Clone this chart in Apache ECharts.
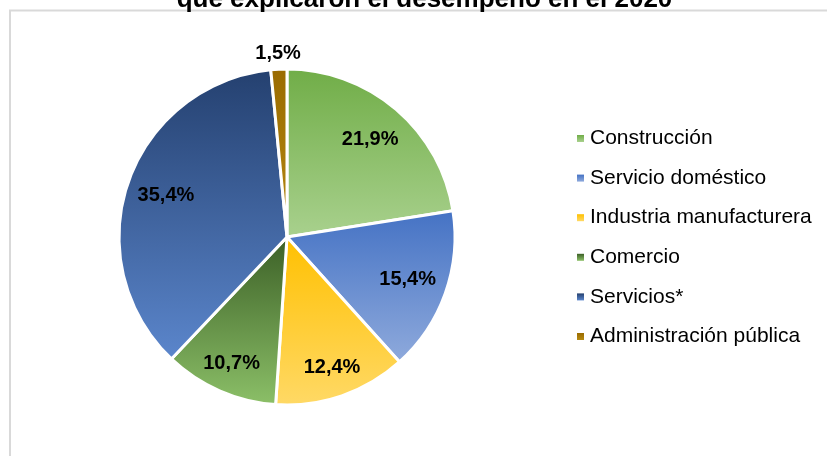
<!DOCTYPE html>
<html>
<head>
<meta charset="utf-8">
<script src="https://cdn.jsdelivr.net/npm/echarts@6/dist/echarts.min.js"></script>
<style>
html,body{margin:0;padding:0;background:#fff;}
#chart{width:827px;height:456px;}
</style>
</head>
<body>
<div id="chart"></div>
<script>
// Data
const titleText = 'que explicaron el desempeño en el 2020';
const categories = ['Construcción', 'Servicio doméstico', 'Industria manufacturera', 'Comercio', 'Servicios*', 'Administración pública'];
const values = [21.9, 15.4, 12.4, 10.7, 35.4, 1.5];
const gradTop = ['#70AD47', '#4472C4', '#FFC000', '#3B5F26', '#24406F', '#9A6B00'];
const gradBottom = ['#A9D18E', '#8FAADC', '#FFD966', '#8CC068', '#5B86CC', '#B58A12'];

const FONT = '"Liberation Sans", Arial, sans-serif';
const CENTER = [287, 237];

function grad(i) {
  return new echarts.graphic.LinearGradient(0, 0, 0, 1, [
    { offset: 0, color: gradTop[i] },
    { offset: 1, color: gradBottom[i] }
  ]);
}
function fmt(v) { return v.toFixed(1).replace('.', ',') + '%'; }

const mainData = categories.map((c, i) => ({ name: c, value: values[i], itemStyle: { color: grad(i) } }));

const labelStyle = {
  position: 'inside',
  formatter: p => fmt(p.value),
  color: '#000',
  fontFamily: FONT,
  fontWeight: 'bold',
  fontSize: 20
};

// transparent helper pies that only carry the value labels at Excel-like distances
function labelSeries(shownNames, outerR) {
  return {
    type: 'pie',
    center: CENTER,
    radius: [0, outerR],
    startAngle: 90,
    clockwise: true,
    silent: true,
    avoidLabelOverlap: false,
    itemStyle: { color: 'rgba(0,0,0,0)', borderWidth: 0 },
    label: labelStyle,
    labelLine: { show: false },
    emphasis: { disabled: true },
    legendHoverLink: false,
    data: categories.map((c, i) => ({ name: c, value: values[i], label: { show: shownNames.indexOf(c) >= 0 } })),
    z: 3
  };
}

const chart = echarts.init(document.getElementById('chart'), null, { renderer: 'canvas' });
chart.setOption({
  animation: false,
  backgroundColor: '#fff',
  graphic: [
    { type: 'rect', shape: { x: 10, y: 10.5, width: 840, height: 470 },
      style: { fill: 'none', stroke: '#D9D9D9', lineWidth: 2 }, silent: true, z: 0 },
    { type: 'text', x: 424.5, y: 0,
      style: { text: titleText, fill: '#000', font: 'bold 26px ' + FONT, textAlign: 'center', textVerticalAlign: 'middle' },
      silent: true }
  ],
  legend: {
    orient: 'vertical',
    left: 577,
    top: 128,
    padding: 0,
    itemWidth: 7,
    itemHeight: 7,
    itemGap: 18.6,
    icon: 'rect',
    data: categories,
    selectedMode: false,
    itemStyle: { borderWidth: 0 },
    textStyle: { fontFamily: FONT, fontSize: 21, color: '#000', lineHeight: 20, padding: [0, 0, 0, 1] }
  },
  series: [
    {
      type: 'pie',
      center: CENTER,
      radius: [0, 168],
      startAngle: 90,
      clockwise: true,
      avoidLabelOverlap: false,
      label: { show: false },
      labelLine: { show: false },
      itemStyle: { borderColor: '#fff', borderWidth: 3 },
      emphasis: { disabled: true },
      data: mainData
    },
    labelSeries(['Construcción', 'Servicio doméstico', 'Servicios*'], 250),
    labelSeries(['Industria manufacturera', 'Comercio'], 270),
    labelSeries(['Administración pública'], 362)
  ]
});
</script>
</body>
</html>
